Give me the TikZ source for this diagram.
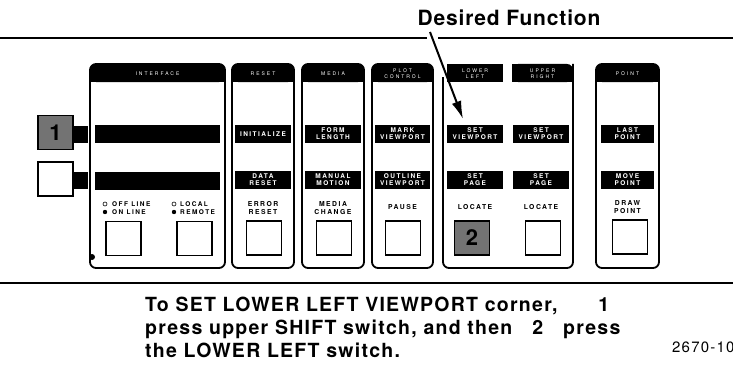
\documentclass[tikz,border=0pt]{standalone}
\usepackage{fontspec}
\setmainfont{TeX Gyre Heros}
\newfontfamily\barfont[LetterSpace=22]{TeX Gyre Heros}
\newfontfamily\hdrfont[LetterSpace=40]{TeX Gyre Heros}
\newfontfamily\capfont[LetterSpace=6.5]{TeX Gyre Heros}
\newfontfamily\ttlfont[LetterSpace=4]{TeX Gyre Heros}
\newfontfamily\numfont[LetterSpace=8]{TeX Gyre Heros}
\usetikzlibrary{arrows.meta}
\tikzset{
  panelline/.style={line width=1.8pt, rounded corners=6pt},
  hdrtext/.style={font=\hdrfont\fontsize{5}{6}\selectfont, text=white, align=center, inner sep=0pt},
  barnode/.style={fill=black, text=white, font=\barfont\bfseries\fontsize{6.5}{7}\selectfont, align=center, inner sep=0pt, minimum height=18pt, minimum width=#1},
  lbl/.style={font=\barfont\bfseries\fontsize{6.8}{8}\selectfont, align=center, inner sep=0pt},
  smalllbl/.style={font=\barfont\bfseries\fontsize{6.5}{7}\selectfont, anchor=west, inner sep=0pt},
  btn/.style={draw, line width=1.7pt, fill=white, minimum width=35pt, minimum height=34pt, inner sep=0pt},
  keybox/.style={draw, line width=1.8pt, minimum width=35pt, minimum height=34pt, inner sep=0pt, font=\bfseries\fontsize{22}{22}\selectfont},
  tab/.style={fill=black, inner sep=0pt, minimum width=15pt, minimum height=17pt},
  caption/.style={font=\capfont\bfseries\fontsize{19.5}{22}\selectfont, anchor=base west, inner sep=0pt},
  rule/.style={line width=2pt}
}
\newcommand{\mypanel}[3]{%
  \draw[panelline] (#1,64) rectangle (#2,268);
  \fill[rounded corners=6pt] (#1,64) rectangle (#2,82);
  \fill (#1,73) rectangle (#2,82);
  \node[hdrtext] (#3) at ({(#1+#2)/2},73.5)}
\begin{document}
\begin{tikzpicture}[x=1pt,y=-1pt]
\useasboundingbox (0,0) rectangle (733,369);
\fill[white] (0,0) rectangle (733,369);

% title and rules
\node[font=\ttlfont\bfseries\fontsize{21}{21}\selectfont, inner sep=0pt] (desired) at (509,17.5) {Desired Function};
\coordinate (ruleL) at (0,38);
\coordinate (ruleA) at (427,38);
\coordinate (ruleB) at (438,38);
\coordinate (ruleR) at (733,38);
\draw[rule] (ruleL) -- (ruleA);
\draw[rule] (ruleB) -- (ruleR);
\coordinate (botL) at (0,283);
\coordinate (botR) at (733,283);
\draw[rule] (botL) -- (botR);

% INTERFACE panel
\mypanel{90}{225}{hInterface} {INTERFACE};
\node[barnode=125pt] (ibar1) at (157.5,134) {};
\node[barnode=125pt] (ibar2) at (157.5,180.5) {};
\fill (92,257) circle (3pt);
\draw[line width=0.6pt] (105,204) circle (2pt);
\fill (105,212) circle (2.2pt);
\node[smalllbl] (offline) at (112,204) {OFF LINE};
\node[smalllbl] (online) at (112,212) {ON LINE};
\draw[line width=0.6pt] (174,204) circle (2pt);
\fill (174,212) circle (2.2pt);
\node[smalllbl] (local) at (180,204) {LOCAL};
\node[smalllbl] (remote) at (180,212) {REMOTE};
\node[btn] (ibtn1) at (123.5,238.5) {};
\node[btn] (ibtn2) at (194.5,238.5) {};

% shift keys
\node[tab] (tab1) at (80.5,134) {};
\node[tab] (tab2) at (80.5,180.5) {};
\node[keybox, fill=black!55] (key1) at (55.5,132.5) {1};
\node[keybox, fill=white] (key2) at (55.5,179) {};

% RESET panel
\mypanel{232}{294}{hReset} {RESET};
\node[barnode=56pt] (initialize) at (263,134) {INITIALIZE};
\node[barnode=56pt] (datareset) at (263,179.5) {DATA\\RESET};
\node[lbl] (errorreset) at (263,208) {ERROR\\RESET};
\node[btn] (rbtn) at (264,238) {};

% MEDIA panel
\mypanel{302}{364}{hMedia} {MEDIA};
\node[barnode=56pt] (formlength) at (333,134) {FORM\\LENGTH};
\node[barnode=56pt] (manualmotion) at (333,179.5) {MANUAL\\MOTION};
\node[lbl] (mediachange) at (333,208) {MEDIA\\CHANGE};
\node[btn] (mbtn) at (334,238) {};

% PLOT CONTROL panel
\mypanel{372}{433}{hPlot} {PLOT\\CONTROL};
\node[barnode=55pt] (markvp) at (402.5,134) {MARK\\VIEWPORT};
\node[barnode=55pt] (outlinevp) at (402.5,179.5) {OUTLINE\\VIEWPORT};
\node[lbl] (pause) at (402.5,207) {PAUSE};
\node[btn] (pbtn) at (403,238) {};

% LOWER LEFT / UPPER RIGHT panel
\draw[panelline] (443,77) -- (443,268) -- (573,268) -- (573,64);
\fill (447,64) rectangle (503,82);
\fill[rounded corners=6pt] (512,64) rectangle (573,82);
\fill (512,73) rectangle (573,82);
\fill (512,64) rectangle (560,82);
\node[hdrtext] (hLower) at (475,73.5) {LOWER\\LEFT};
\node[hdrtext] (hUpper) at (542.5,73.5) {UPPER\\RIGHT};
\node[barnode=56pt] (setvpL) at (475,134) {SET\\VIEWPORT};
\node[barnode=56pt] (setpageL) at (475,179.5) {SET\\PAGE};
\node[lbl] (locateL) at (475,207) {LOCATE};
\node[keybox, fill=black!55] (key2btn) at (472,238) {2};
\node[barnode=56pt] (setvpU) at (541,134) {SET\\VIEWPORT};
\node[barnode=56pt] (setpageU) at (541,179.5) {SET\\PAGE};
\node[lbl] (locateU) at (541,207) {LOCATE};
\node[btn] (ubtn) at (543,238) {};

% POINT panel
\mypanel{596}{659}{hPoint} {POINT};
\node[barnode=53pt] (lastpoint) at (627.5,134) {LAST\\POINT};
\node[barnode=53pt] (movepoint) at (627.5,179.5) {MOVE\\POINT};
\node[lbl] (drawpoint) at (627.5,207) {DRAW\\POINT};
\node[btn] (ptbtn) at (630,237) {};

% arrow
\coordinate (arrowstart) at (430,32);
\coordinate (arrowtip) at (463,119);
\draw[line width=2pt, -{Latex[length=18pt,width=10pt]}] (arrowstart) -- (arrowtip);

% caption
\node[caption] (cap1) at (145,311) {To SET LOWER LEFT VIEWPORT corner,\hspace{41pt}1};
\node[caption] (cap2) at (145,334) {press upper SHIFT switch, and then\hspace{20pt}2\hspace{20pt}press};
\node[caption] (cap3) at (145,357) {the LOWER LEFT switch.};
\node[font=\numfont\fontsize{15}{15}\selectfont, anchor=base west, inner sep=0pt] (fignum) at (672,352) {2670-10};
\end{tikzpicture}
\end{document}
